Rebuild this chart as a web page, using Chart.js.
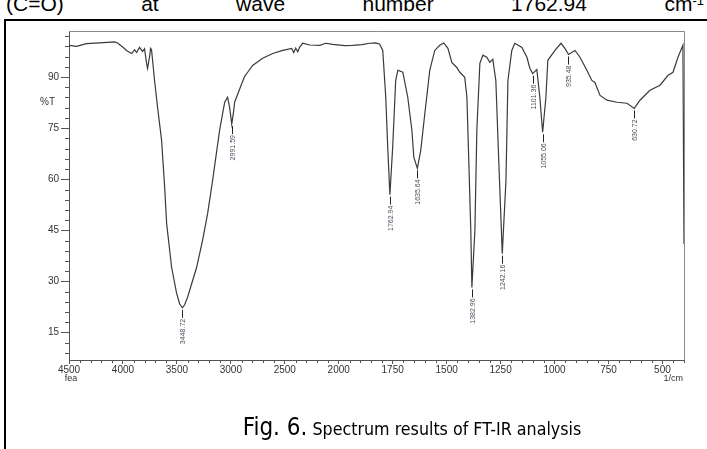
<!DOCTYPE html>
<html><head><meta charset="utf-8">
<script src="https://cdn.jsdelivr.net/npm/chart.js@4/dist/chart.umd.min.js"></script>
<style>
html,body{margin:0;padding:0;background:#fff;width:707px;height:449px;overflow:hidden;position:relative;font-family:"Liberation Sans",Arial,sans-serif;}
#toptext{position:absolute;left:6px;width:698px;top:-7px;font-size:21px;line-height:22px;height:22px;display:flex;justify-content:space-between;color:#000;white-space:nowrap;}
#toptext .sup{position:relative;top:-6px;font-size:13px;}
#frame{position:absolute;left:4px;top:19px;width:720px;height:460px;border-left:2px solid #000;border-top:2px solid #000;}
#chart{position:absolute;left:0;top:0;}
#caption{position:absolute;left:0;width:824px;top:413px;text-align:center;white-space:nowrap;font-family:"Liberation Sans Narrow","DejaVu Sans Condensed",sans-serif;color:#000;}
#caption .big{font-size:24px;}
#caption .small{font-size:17.7px;}
</style></head>
<body>
<div id="toptext"><span>(C=O)</span><span>at</span><span>wave</span><span>number</span><span>1762.94</span><span>cm<span class="sup">-1</span></span></div>
<div id="frame"></div>
<canvas id="chart" width="707" height="449"></canvas>
<div id="caption"><span class="big">Fig. 6.</span><span class="small"> Spectrum results of FT-IR analysis</span></div>
<script>
const wavenumbers = [4500,4430,4338,4217,4078,4050,3994,3967,3920,3892,3874,3846,3818,3800,3781,3772,3753,3744,3735,3707,3679,3642,3614,3595,3549,3503,3475,3448.72,3428,3401,3317,3262,3215,3169,3104,3057,3030,3011,2991.59,2974,2965,2918,2872,2844,2798,2705,2612,2519,2436,2417,2399,2380,2362,2334,2269,2176,2121,2056,1972,1935,1893,1856,1828,1810,1796,1782,1773,1762.94,1750,1736,1726,1703,1680,1661,1652,1635.64,1620,1601,1578,1555,1532,1513,1494,1476,1453,1439,1416,1406,1397,1388,1382.96,1369,1360,1346,1332,1314,1300,1286,1272,1258,1242.16,1225,1216,1198,1184,1151,1128,1114,1101.36,1082,1068,1055.06,1040,1031,998,970,952,935.48,905,882,850,827,813,789,757,711,664,630.72,604,558,511,474,451,428,405,400];
const transmittance = [99.3,99.0,99.8,100.0,100.3,100.0,98.6,97.8,96.9,98.0,97.2,98.7,97.5,98.3,94.0,92.5,96.0,98.4,98.0,89.0,81.1,71.5,58.0,47.0,34.2,26.6,23.5,22.3,23.2,25.4,34.2,42.1,50.0,59.7,74.4,82.6,84.1,81.0,76.2,80.0,82.6,86.5,90.2,91.4,93.4,95.5,96.9,97.8,98.4,97.2,98.5,97.4,98.8,99.9,99.4,99.3,99.9,99.6,99.2,99.3,99.5,99.9,100.0,99.6,97.8,84.0,69.4,55.5,69.4,89.0,92.0,91.4,84.0,74.4,66.4,63.2,68.5,79.3,92.0,97.8,99.3,100.0,98.4,94.3,92.8,91.4,89.9,84.0,64.7,45.0,28.3,45.0,74.4,94.0,96.4,95.8,94.3,95.2,89.0,64.7,38.2,59.7,89.0,97.8,99.9,98.7,95.8,92.5,91.0,92.2,84.0,73.8,84.0,94.9,97.8,99.9,98.4,96.6,97.8,95.8,92.0,89.0,88.4,84.6,83.2,82.6,82.3,80.8,83.2,86.1,87.6,90.5,91.4,95.8,99.3,41.0];
const peakWavenumbers = [3448.72,2991.59,1762.94,1635.64,1382.96,1242.16,1101.36,1055.06,935.48,630.72];
const peakLabels = ["3448.72","2991.59","1762.94","1635.64","1382.96","1242.16","1101.36","1055.06","935.48","630.72"];
const xTickLabels = [4500,4000,3500,3000,2500,2000,1750,1500,1250,1000,750,500];
const yTickLabels = [15,30,45,60,75,90];

// instrument axis: 4500-2000 compressed by half relative to 2000-400
function toAxis(nu){ return nu > 2000 ? 2000 + (nu - 2000) / 2 : nu; }
function fromAxis(u){ return u > 2000 ? 2000 + (u - 2000) * 2 : u; }

const tickFont = {family:"'Liberation Sans', Arial, sans-serif", size:10};

const decor = {
  id:'decor',
  afterDraw(chart){
    const ctx = chart.ctx, a = chart.chartArea;
    const xs = chart.scales.x, ys = chart.scales.y;
    ctx.save();
    // frame top & right
    ctx.strokeStyle = '#8a8a8a'; ctx.lineWidth = 1;
    ctx.beginPath();
    ctx.moveTo(a.left, a.top + 0.5); ctx.lineTo(a.right + 0.5, a.top + 0.5); ctx.lineTo(a.right + 0.5, a.bottom);
    ctx.stroke();
    // minor ticks
    ctx.strokeStyle = '#555';
    ctx.beginPath();
    for (let v = 3; v < ys.max; v += 3) {
      if (v < ys.min || v % 15 === 0) continue;
      const p = Math.round(ys.getPixelForValue(v)) + 0.5;
      ctx.moveTo(a.left - 4, p); ctx.lineTo(a.left, p);
    }
    for (let u = 400; u <= 3250; u += 50) {
      if (u % 250 === 0) continue;
      const p = Math.round(xs.getPixelForValue(u)) + 0.5;
      ctx.moveTo(p, a.bottom); ctx.lineTo(p, a.bottom + 3);
    }
    ctx.stroke();
    // unit labels
    ctx.fillStyle = '#333';
    ctx.font = "9px 'Liberation Sans', Arial, sans-serif";
    ctx.textBaseline = 'top';
    ctx.textAlign = 'center';
    ctx.fillText('fea', xs.getPixelForValue(toAxis(4500)) + 2, a.bottom + 14);
    ctx.textAlign = 'right';
    ctx.fillText('1/cm', a.right - 1, a.bottom + 14);
    // %T label
    ctx.font = "10px 'Liberation Sans', Arial, sans-serif";
    ctx.textAlign = 'left'; ctx.textBaseline = 'middle';
    ctx.fillText('%T', 40, ys.getPixelForValue(82.5));
    // peak annotations
    ctx.font = "7px 'Liberation Sans', Arial, sans-serif";
    ctx.fillStyle = '#4a4f5e';
    ctx.strokeStyle = '#222';
    peakWavenumbers.forEach((w, i) => {
      const idx = wavenumbers.indexOf(w);
      const px = Math.round(xs.getPixelForValue(toAxis(w))) + 0.5;
      const py = ys.getPixelForValue(transmittance[idx]);
      ctx.beginPath();
      ctx.moveTo(px, py + 2); ctx.lineTo(px, py + 10);
      ctx.stroke();
      ctx.save();
      ctx.translate(px + 0.5, py + 11);
      ctx.rotate(-Math.PI / 2);
      ctx.textAlign = 'right'; ctx.textBaseline = 'middle';
      ctx.fillText(peakLabels[i], 0, 0);
      ctx.restore();
    });
    ctx.restore();
  }
};

new Chart(document.getElementById('chart').getContext('2d'), {
  type: 'line',
  data: { datasets: [{
    data: wavenumbers.map((w, i) => ({x: toAxis(w), y: transmittance[i]})),
    borderColor: '#3a3a3a', borderWidth: 1.2, pointRadius: 0, tension: 0, fill: false
  }]},
  options: {
    responsive: false, animation: false, devicePixelRatio: 1,
    layout: {padding: {left: 0, top: 31, right: 23, bottom: 59}},
    plugins: {legend: {display: false}, tooltip: {enabled: false}},
    scales: {
      x: {
        type: 'linear', reverse: true, min: 400, max: 3250,
        afterBuildTicks: s => { s.ticks = xTickLabels.map(v => ({value: toAxis(v)})); },
        afterFit: s => { s.height = 30; },
        ticks: {callback: v => String(fromAxis(v)), maxRotation: 0, autoSkip: false, font: tickFont, color: '#333', padding: 0},
        grid: {drawOnChartArea: false, tickLength: 4, color: '#555'},
        border: {color: '#555', width: 1}
      },
      y: {
        min: 7, max: 103.5,
        afterBuildTicks: s => { s.ticks = yTickLabels.map(v => ({value: v})); },
        afterFit: s => { s.width = 69; },
        ticks: {font: tickFont, color: '#333', padding: 2},
        grid: {drawOnChartArea: false, tickLength: 8, color: '#555'},
        border: {color: '#555', width: 1}
      }
    }
  },
  plugins: [decor]
});
</script>
</body></html>
